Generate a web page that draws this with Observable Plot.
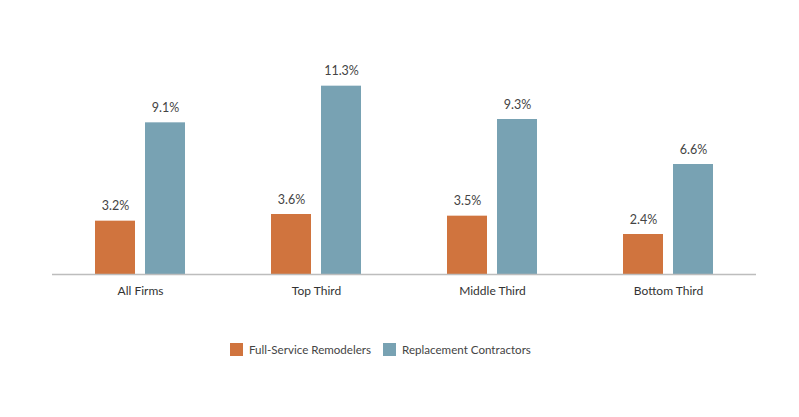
<!DOCTYPE html>
<html>
<head>
<meta charset="utf-8">
<script src="https://cdn.jsdelivr.net/npm/d3@7"></script>
<script src="https://cdn.jsdelivr.net/npm/@observablehq/plot@0.6"></script>
<style>
  html, body { margin: 0; padding: 0; background: #fff; }
  body { width: 799px; height: 417px; overflow: hidden; font-family: Lato, "Noto Sans", sans-serif; }
  #legend { display: flex; align-items: center; margin-top: 23px; padding-left: 230px; font-size: 11.6px; color: #444; }
  .sw { width: 13px; height: 13px; display: inline-block; margin-right: 6px; }
  .item { display: flex; align-items: center; margin-right: 12px; }
</style>
</head>
<body>
<div id="chart"></div>
<div id="legend"></div>
<script>
const categories = ["All Firms", "Top Third", "Middle Third", "Bottom Third"];
const seriesNames = ["Full-Service Remodelers", "Replacement Contractors"];
const remodelers = [3.2, 3.6, 3.5, 2.4];
const replacement = [9.1, 11.3, 9.3, 6.6];
const colors = ["#d0743e", "#78a2b3"];

const data = [];
categories.forEach((c, i) => {
  data.push({category: c, series: seriesNames[0], value: remodelers[i]});
  data.push({category: c, series: seriesNames[1], value: replacement[i]});
});

const chart = Plot.plot({
  width: 799,
  height: 320,
  marginTop: 74,
  marginBottom: 46,
  marginLeft: 52,
  marginRight: 43,
  style: {fontFamily: "Lato, 'Noto Sans', sans-serif", fontSize: "12px", color: "#333", background: "#fff"},
  fx: {domain: categories, padding: 0, label: null, axis: "bottom", tickSize: 0, tickPadding: 12},
  x: {domain: seriesNames, paddingInner: 0.2, paddingOuter: 0.84, axis: null},
  y: {domain: [0, 12], axis: null},
  color: {domain: seriesNames, range: colors},
  marks: [
    Plot.barY(data, {fx: "category", x: "series", y: "value", fill: "series"}),
    Plot.ruleY([0], {stroke: "#bdbdbd", strokeWidth: 1.5}),
    Plot.text(data, {fx: "category", x: "series", y: "value", text: d => d.value.toFixed(1) + "%", dy: -11, lineAnchor: "bottom", fill: "#444", fontSize: 12.5})
  ]
});
document.getElementById("chart").appendChild(chart);

const legend = document.getElementById("legend");
seriesNames.forEach((s, i) => {
  const item = document.createElement("span");
  item.className = "item";
  const sw = document.createElement("span");
  sw.className = "sw";
  sw.style.background = colors[i];
  item.appendChild(sw);
  item.appendChild(document.createTextNode(s));
  legend.appendChild(item);
});
</script>
</body>
</html>
